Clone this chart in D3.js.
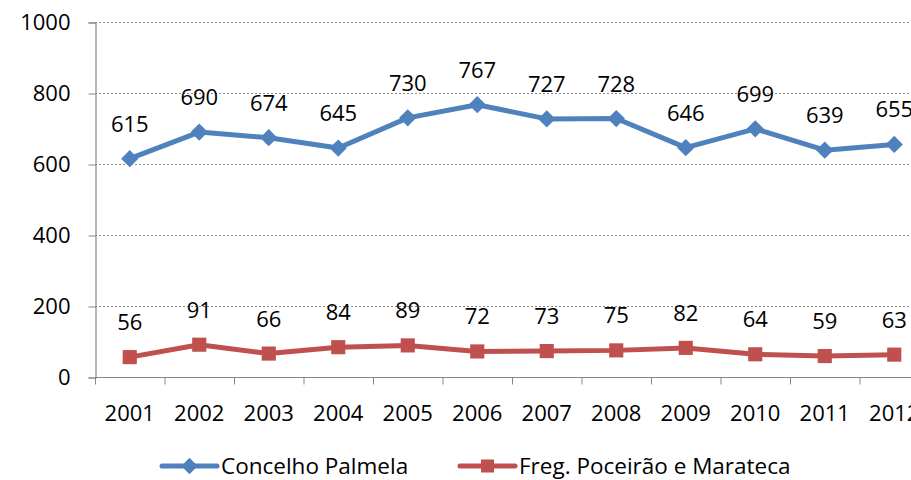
<!DOCTYPE html>
<html>
<head>
<meta charset="utf-8">
<script src="https://cdn.jsdelivr.net/npm/d3@7"></script>
<style>
  body { margin: 0; background: #fff; }
  text { font-family: "Open Sans", sans-serif; fill: #000; }
</style>
</head>
<body>
<svg id="chart" width="911" height="480"></svg>
<script>
// data
var years = ["2001","2002","2003","2004","2005","2006","2007","2008","2009","2010","2011","2012"];
var palmela = [615, 690, 674, 645, 730, 767, 727, 728, 646, 699, 639, 655];
var poceirao = [56, 91, 66, 84, 89, 72, 73, 75, 82, 64, 59, 63];
var yTicks = [0, 200, 400, 600, 800, 1000];

function drawChart() {
  var svg = d3.select("#chart");
  var left = 95, plotTop = 22, bottom = 377;
  var bandW = 69.5;

  var x = d3.scaleBand().domain(years).range([left, left + bandW * years.length]);
  var y = d3.scaleLinear().domain([0, 1000]).range([bottom, plotTop]);

  // grid lines
  svg.append("g").selectAll("line")
    .data(yTicks.filter(function(d) { return d > 0; }))
    .enter().append("line")
      .attr("x1", left).attr("x2", 911)
      .attr("y1", function(d) { return y(d) + 0.5; })
      .attr("y2", function(d) { return y(d) + 0.5; })
      .attr("stroke", "#8c8c8c").attr("stroke-width", 1)
      .attr("stroke-dasharray", "2,2");

  // y axis
  var yAxis = svg.append("g").attr("transform", "translate(" + (left + 0.5) + ",0.5)")
    .call(d3.axisLeft(y).tickValues(yTicks).tickSize(7).tickPadding(18).tickFormat(d3.format("d")));
  yAxis.select(".domain").attr("stroke", "#868686").attr("stroke-width", 1.2);
  yAxis.selectAll(".tick line").attr("stroke", "#868686");
  yAxis.selectAll("text").style("font-size", "22px").attr("fill", "#000")
    .style("font-family", "'Open Sans', sans-serif");

  // x axis
  var xAxis = svg.append("g").attr("transform", "translate(0," + (bottom + 0.5) + ")");
  xAxis.append("line").attr("x1", left).attr("x2", 911).attr("stroke", "#868686").attr("stroke-width", 1.2);
  xAxis.selectAll(".tk").data(d3.range(years.length + 1)).enter().append("line")
    .attr("x1", function(i) { return left + i * bandW + 0.5; })
    .attr("x2", function(i) { return left + i * bandW + 0.5; })
    .attr("y1", 0).attr("y2", 7).attr("stroke", "#868686");
  xAxis.selectAll("text").data(years).enter().append("text")
    .attr("x", function(d) { return x(d) + x.bandwidth() / 2; })
    .attr("y", 43)
    .attr("text-anchor", "middle")
    .style("font-size", "22px")
    .text(function(d) { return d; });

  function drawSeries(vals, color, shape, size) {
    var line = d3.line()
      .x(function(d, i) { return x(years[i]) + x.bandwidth() / 2; })
      .y(function(d) { return y(d); });
    svg.append("path").datum(vals)
      .attr("d", line).attr("fill", "none")
      .attr("stroke", color).attr("stroke-width", 5).attr("stroke-linejoin", "round");
    svg.append("g").selectAll("path").data(vals).enter().append("path")
      .attr("d", d3.symbol().type(shape).size(size))
      .attr("transform", function(d, i) {
        return "translate(" + (x(years[i]) + x.bandwidth() / 2) + "," + y(d) + ")";
      })
      .attr("fill", color);
    svg.append("g").selectAll("text").data(vals).enter().append("text")
      .attr("x", function(d, i) { return x(years[i]) + x.bandwidth() / 2; })
      .attr("y", function(d) { return y(d) - 27; })
      .attr("text-anchor", "middle")
      .style("font-size", "22px")
      .text(function(d) { return d; });
  }

  drawSeries(palmela, "#4f81bd", d3.symbolDiamond2, 190);
  drawSeries(poceirao, "#c0504d", d3.symbolSquare, 200);

  // legend
  var leg = [
    { name: "Concelho Palmela", color: "#4f81bd", shape: d3.symbolDiamond2, size: 170, x: 162 },
    { name: "Freg. Poceirão e Marateca", color: "#c0504d", shape: d3.symbolSquare, size: 170, x: 460 }
  ];
  var lg = svg.append("g").selectAll("g").data(leg).enter().append("g")
    .attr("transform", function(d) { return "translate(" + d.x + ",466)"; });
  lg.append("line").attr("x1", 0).attr("x2", 55)
    .attr("stroke", function(d) { return d.color; }).attr("stroke-width", 5).attr("stroke-linecap", "round");
  lg.append("path").attr("transform", "translate(27.5,0)")
    .attr("d", function(d) { return d3.symbol().type(d.shape).size(d.size)(); })
    .attr("fill", function(d) { return d.color; });
  lg.append("text").attr("x", 59).attr("y", 8)
    .style("font-size", "22.5px")
    .text(function(d) { return d.name; });
}

drawChart();
</script>
</body>
</html>
